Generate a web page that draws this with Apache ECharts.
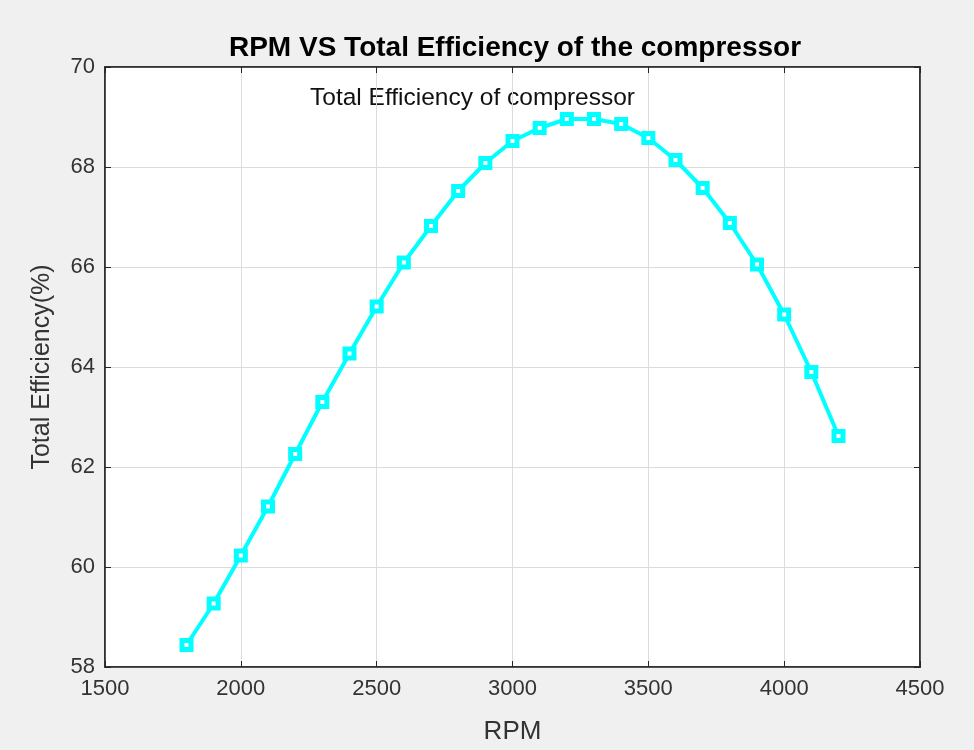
<!DOCTYPE html>
<html><head><meta charset="utf-8">
<script src="https://cdn.jsdelivr.net/npm/echarts@6/dist/echarts.min.js"></script>
<style>html,body{margin:0;padding:0;background:#f0f0f0;}#c{width:974px;height:750px;}</style>
</head><body><div id="c"></div>
<script>
const rpm = [1800,1900,2000,2100,2200,2300,2400,2500,2600,2700,2800,2900,3000,3100,3200,3300,3400,3500,3600,3700,3800,3900,4000,4100,4200];
const efficiency = [58.44,59.27,60.23,61.21,62.26,63.30,64.27,65.21,66.09,66.82,67.52,68.08,68.52,68.78,68.96,68.96,68.86,68.58,68.14,67.58,66.88,66.05,65.05,63.90,62.62];
const titleText = 'RPM VS Total Efficiency of the compressor';
const seriesName = 'Total Efficiency of compressor';
const xName = 'RPM';
const yName = 'Total Efficiency(%)';

const chart = echarts.init(document.getElementById('c'));
const tickCol = '#262626';
const ff = 'Liberation Sans, Arial, Helvetica';
const lbl = {color:'#333333', fontSize:22, fontFamily:ff};
chart.setOption({
  backgroundColor:'#f0f0f0',
  animation:false,
  title:{text:titleText, left:510, top:29, textAlign:'center',
    textStyle:{fontSize:28, fontWeight:'bold', color:'#000', fontFamily:ff}},
  grid:{left:105, right:54, top:67, bottom:81, show:true, backgroundColor:'#fff', borderColor:tickCol, borderWidth:1.5},
  graphic:[{type:'text', left:310, top:86, style:{text:seriesName, fontSize:24.5, fill:'#111', fontFamily:ff}}],
  xAxis:[{type:'value', min:1500, max:4500, interval:500, name:xName, nameLocation:'middle', nameGap:52,
    nameTextStyle:{fontSize:26, color:'#333333', fontFamily:ff},
    axisLine:{show:true,lineStyle:{color:tickCol,width:1.5}}, axisTick:{show:true,inside:true,length:6,lineStyle:{color:tickCol}},
    axisLabel:Object.assign({margin:11, formatter:v=>String(v)},lbl), splitLine:{show:true,lineStyle:{color:'#dcdcdc',width:1}}},
    {type:'value', position:'top', min:1500, max:4500, interval:500, axisLine:{show:true,lineStyle:{color:tickCol,width:1.5}},
    axisTick:{show:true,inside:true,length:6,lineStyle:{color:tickCol}}, axisLabel:{show:false}, splitLine:{show:false}}],
  yAxis:[{type:'value', min:58, max:70, interval:2, name:yName, nameLocation:'middle', nameGap:50,
    nameTextStyle:{fontSize:25, color:'#333333', fontFamily:ff},
    axisLine:{show:true,lineStyle:{color:tickCol,width:1.5}}, axisTick:{show:true,inside:true,length:6,lineStyle:{color:tickCol}},
    axisLabel:Object.assign({margin:10},lbl), splitLine:{show:true,lineStyle:{color:'#dcdcdc',width:1}}},
    {type:'value', position:'right', min:58, max:70, interval:2, axisLine:{show:true,lineStyle:{color:tickCol,width:1.5}},
    axisTick:{show:true,inside:true,length:6,lineStyle:{color:tickCol}}, axisLabel:{show:false}, splitLine:{show:false}}],
  series:[{type:'line', name:seriesName, data:rpm.map((r,i)=>[r,efficiency[i]]),
    lineStyle:{color:'#00ffff', width:4}, symbol:'rect', symbolSize:9,
    itemStyle:{color:'#ffffff', borderColor:'#00ffff', borderWidth:5}, showAllSymbol:true}]
});
</script></body></html>
